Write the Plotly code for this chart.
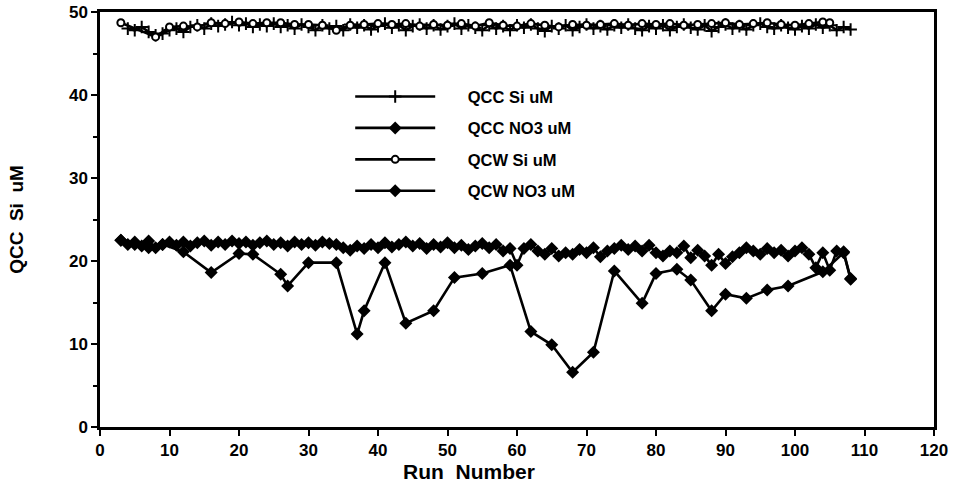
import plotly.graph_objects as go

# ---------------- data ----------------
qcc_si_x = list(range(4, 109))
qcc_si_y = [48.0, 47.8, 48.2, 47.6, 47.2, 47.4, 47.8, 48.0, 47.6, 48.2, 48.4, 48.0, 48.6, 48.3, 48.5,
            48.8, 48.4, 48.6, 48.2, 48.5, 48.3, 48.6, 48.2, 48.4, 48.0, 48.5, 48.2, 47.8, 48.4, 48.0,
            48.3, 47.8, 48.5, 48.1, 48.4, 47.9, 48.3, 48.6, 48.1, 48.4, 47.8, 48.3, 48.5, 48.0, 48.4,
            47.9, 48.3, 48.6, 48.0, 48.4, 48.1, 47.8, 48.4, 48.0, 48.3, 47.8, 48.4, 48.1, 48.5, 48.0,
            47.7, 48.3, 48.0, 48.4, 47.8, 48.2, 48.5, 48.0, 48.3, 47.9, 48.4, 48.1, 48.5, 48.0, 47.8,
            48.3, 48.0, 48.4, 47.8, 48.2, 48.5, 48.1, 47.9, 48.4, 47.7, 48.2, 48.5, 48.0, 48.3, 47.9,
            48.4, 48.6, 48.2, 48.0, 48.4, 48.1, 47.9, 48.3, 48.0, 48.5, 48.1, 48.4, 47.8, 48.2, 47.9]

qcc_no3_x = list(range(3, 109))
qcc_no3_y = [22.5, 22.0, 22.3, 21.8, 22.4, 21.6, 22.0, 22.3, 21.9, 22.3, 21.8, 22.2, 22.4, 21.9, 22.3,
             22.0, 22.4, 22.1, 22.3, 21.9, 22.2, 22.4, 22.0, 22.2, 21.8, 22.3, 22.0, 22.2, 21.9, 22.3,
             22.1, 22.0, 21.6, 21.3, 21.8, 21.5, 22.0, 21.6, 22.2, 21.7, 22.0, 22.3, 21.8, 22.1, 21.5,
             22.0, 21.7, 22.2, 21.6, 21.9, 21.4, 21.8, 22.1, 21.6, 22.0, 21.2, 21.5, 19.5, 21.5, 22.0,
             21.2, 20.8, 21.5, 20.6, 21.0, 20.8, 21.4, 21.0, 21.6, 20.5, 21.2, 21.5, 21.9, 21.4, 21.8,
             21.2, 21.9, 21.0, 20.6, 21.2, 21.0, 21.8, 20.4, 21.3, 20.6, 19.5, 20.8, 19.7, 20.5, 21.0,
             21.6, 21.2, 20.8, 21.5, 21.0, 21.3, 20.6, 21.2, 21.6, 20.8, 19.2, 21.0, 18.9, 21.2, 21.1,
             17.9]

qcw_si_x = [3, 8, 10, 12, 14, 16, 18, 20, 22, 24, 26, 28, 30, 32, 34, 36, 38, 40, 42, 44, 46, 48, 50,
            52, 54, 56, 58, 60, 62, 64, 66, 68, 70, 72, 74, 76, 78, 80, 82, 84, 86, 88, 90, 92, 94,
            96, 98, 100, 102, 104, 105]
qcw_si_y = [48.7, 47.0, 48.2, 48.3, 48.2, 48.7, 48.6, 48.8, 48.6, 48.7, 48.7, 48.5, 48.5, 48.4, 47.8,
            48.4, 48.5, 48.6, 48.5, 48.6, 48.3, 48.5, 48.4, 48.6, 48.3, 48.7, 48.4, 48.3, 48.6, 48.4,
            48.2, 48.5, 48.4, 48.5, 48.6, 48.4, 48.6, 48.5, 48.6, 48.4, 48.5, 48.6, 48.7, 48.5, 48.6,
            48.7, 48.5, 48.4, 48.6, 48.8, 48.7]

qcw_no3_x = [3, 5, 7, 9, 12, 16, 20, 22, 26, 27, 30, 34, 37, 38, 41, 44, 48, 51, 55, 59, 62, 65, 68,
             71, 74, 78, 80, 83, 85, 88, 90, 93, 96, 99, 104, 107, 108]
qcw_no3_y = [22.5, 22.0, 21.6, 22.0, 21.1, 18.6, 20.9, 20.8, 18.4, 17.0, 19.8, 19.8, 11.2, 14.0, 19.8,
             12.5, 14.0, 18.0, 18.5, 19.5, 11.5, 9.9, 6.6, 9.0, 18.8, 14.9, 18.5, 19.0, 17.7, 14.0,
             16.0, 15.5, 16.5, 17.0, 18.7, 21.0, 17.8]

x_ticks = [0, 10, 20, 30, 40, 50, 60, 70, 80, 90, 100, 110, 120]
y_ticks = [0, 10, 20, 30, 40, 50]

# ---------------- figure ----------------
fig = go.Figure()
lw = 2.6
pad = "\u00a0" * 6
fig.add_trace(go.Scatter(x=qcc_si_x, y=qcc_si_y, name=pad + "QCC Si uM", mode="lines+markers",
                         line=dict(color="black", width=lw),
                         marker=dict(symbol="cross-thin", size=9, color="black",
                                     line=dict(color="black", width=2)),
                         legendgroup="a"))
fig.add_trace(go.Scatter(x=qcc_no3_x, y=qcc_no3_y, name=pad + "QCC NO3 uM", mode="lines+markers",
                         line=dict(color="black", width=lw),
                         marker=dict(symbol="diamond", size=10, color="black"),
                         legendgroup="b"))
fig.add_trace(go.Scatter(x=qcw_si_x, y=qcw_si_y, name=pad + "QCW Si uM", mode="lines+markers",
                         line=dict(color="black", width=lw),
                         marker=dict(symbol="circle", size=7, color="white",
                                     line=dict(color="black", width=2)),
                         legendgroup="c"))
fig.add_trace(go.Scatter(x=qcw_no3_x, y=qcw_no3_y, name=pad + "QCW NO3 uM", mode="lines+markers",
                         line=dict(color="black", width=lw),
                         marker=dict(symbol="diamond", size=10, color="black"),
                         legendgroup="d"))

axis_common = dict(showgrid=False, zeroline=False, showline=True, linecolor="black", linewidth=2.5,
                   mirror=True, ticks="outside", tickcolor="black", tickwidth=2, ticklen=6,
                   automargin=False,
                   tickfont=dict(family="Liberation Sans Narrow, Arial Narrow, Liberation Sans",
                                 size=17, color="black", weight="bold"))

fig.update_xaxes(range=[0, 120], tickvals=x_ticks, **axis_common)
fig.update_yaxes(range=[0, 50], tickvals=y_ticks,
                 minor=dict(dtick=5, ticks="outside", ticklen=4, tickcolor="black", tickwidth=2),
                 title=dict(text="QCC  Si  uM", standoff=41,
                            font=dict(family="Liberation Sans, Arial", size=19, color="black",
                                      weight="bold")),
                 **axis_common)

fig.add_annotation(text="Run  Number", xref="paper", yref="paper", x=0.443, y=-0.075,
                   xanchor="center", yanchor="top", showarrow=False,
                   font=dict(family="Liberation Sans, Arial", size=21, color="black", weight="bold"))

fig.update_layout(
    width=955, height=491,
    margin=dict(l=100, r=21, t=12, b=64),
    plot_bgcolor="white", paper_bgcolor="white",
    legend=dict(x=0.3, y=0.838, xanchor="left", yanchor="top", bgcolor="rgba(0,0,0,0)",
                itemwidth=80, tracegroupgap=7,
                font=dict(family="Liberation Sans, Arial", size=16.5, color="black", weight="bold")),
)

fig.write_html("out.html")
